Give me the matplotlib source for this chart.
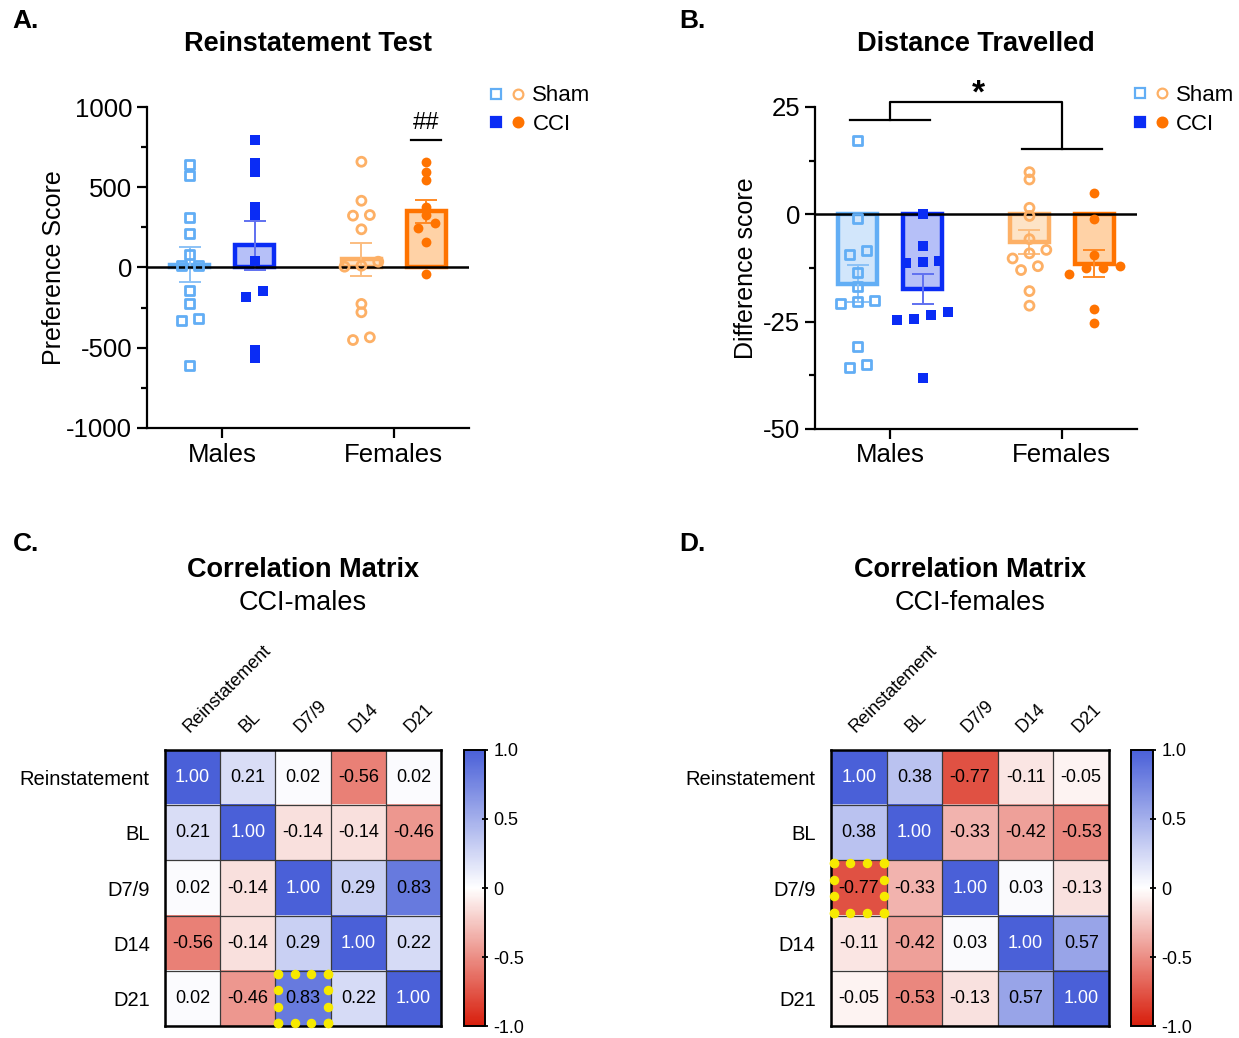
import numpy as np
import matplotlib
matplotlib.use('Agg')
import matplotlib.pyplot as plt
from matplotlib.colors import LinearSegmentedColormap
from matplotlib.legend_handler import HandlerTuple
from matplotlib.lines import Line2D
from matplotlib.ticker import MultipleLocator

plt.rcParams['font.family'] = ['Liberation Sans', 'DejaVu Sans']
plt.rcParams['axes.unicode_minus'] = False

groups = ['Males', 'Females']
conditions = ['Sham', 'CCI']

# A. reinstatement test, preference score per animal
pref_sham_m = [639, 576, 313, 209, 84, 11, 11, -145, -227, -316, -331, -609]
pref_cci_m = [794, 649, 597, 379, 327, 40, -145, -182, -514, -566]
pref_sham_f = [659, 416, 327, 323, 238, 36, 11, 5, -227, -279, -435, -452]
pref_cci_f = [659, 593, 545, 379, 327, 275, 244, 161, -40]

# B. distance travelled, difference score per animal
dist_sham_m = [17.2, -1.0, -8.5, -9.3, -13.5, -16.8, -20.1, -20.3, -20.9, -30.8, -35.0, -35.6]
dist_cci_m = [0.0, -7.4, -10.8, -11.1, -11.4, -22.8, -23.4, -24.4, -24.7, -38.1]
dist_sham_f = [9.8, 8.1, 1.5, -0.4, -5.8, -8.3, -9.1, -10.3, -12.1, -13.0, -17.9, -21.3]
dist_cci_f = [5.0, -1.0, -9.5, -12.0, -12.6, -12.6, -13.9, -22.0, -25.3]

# C/D. correlation matrices
corr_labels = ['Reinstatement', 'BL', 'D7/9', 'D14', 'D21']
corr_males = [[1.00, 0.21, 0.02, -0.56, 0.02],
              [0.21, 1.00, -0.14, -0.14, -0.46],
              [0.02, -0.14, 1.00, 0.29, 0.83],
              [-0.56, -0.14, 0.29, 1.00, 0.22],
              [0.02, -0.46, 0.83, 0.22, 1.00]]
corr_females = [[1.00, 0.38, -0.77, -0.11, -0.05],
                [0.38, 1.00, -0.33, -0.42, -0.53],
                [-0.77, -0.33, 1.00, 0.03, -0.13],
                [-0.11, -0.42, 0.03, 1.00, 0.57],
                [-0.05, -0.53, -0.13, 0.57, 1.00]]
highlight_males = (4, 2)
highlight_females = (2, 0)

# styles: (edge, fill, errorbar colour, marker, filled)
styles = {
    ('Males', 'Sham'): ('#62aef5', '#d2e6fb', '#8cc2f6', 's', False),
    ('Males', 'CCI'): ('#0a2cf5', '#b6c0f8', '#5f70f0', 's', True),
    ('Females', 'Sham'): ('#fdb066', '#fde3c6', '#fbbd80', 'o', False),
    ('Females', 'CCI'): ('#ff7300', '#ffd2a6', '#ff8a26', 'o', True),
}

group_x = {'Males': 0.0, 'Females': 2.65}
cond_dx = {'Sham': -0.5, 'CCI': 0.5}


def swarm_offsets(vals, thresh, step):
    vals = np.asarray(vals, dtype=float)
    order = np.argsort(vals)
    offs = np.zeros(len(vals))
    rows = [[order[0]]]
    for i in order[1:]:
        if vals[i] - vals[rows[-1][-1]] < thresh:
            rows[-1].append(i)
        else:
            rows.append([i])
    for row in rows:
        for k, idx in enumerate(row):
            offs[idx] = (k - (len(row) - 1) / 2.0) * step
    return offs


def dot_bar_panel(ax, data, thresh):
    for (grp, cond), vals in data.items():
        edge, fill, ecol, marker, filled = styles[(grp, cond)]
        vals = np.asarray(vals, dtype=float)
        x = group_x[grp] + cond_dx[cond]
        mean = vals.mean()
        sem = vals.std(ddof=1) / np.sqrt(len(vals))
        ax.bar(x, mean, width=0.6, color=fill, edgecolor=edge, linewidth=3.2, zorder=2)
        ax.errorbar(x, mean, yerr=sem, color=ecol, capsize=8, elinewidth=1.4,
                    capthick=1.4, zorder=3)
        offs = swarm_offsets(vals, thresh, 0.26)
        if filled:
            ax.scatter(x + offs, vals, marker=marker, s=50, color=edge,
                       linewidths=0, zorder=5)
        else:
            ax.scatter(x + offs, vals, marker=marker, s=42, facecolors='none',
                       edgecolors=edge, linewidths=2.0, zorder=5)
    ax.axhline(0, color='black', lw=1.8, zorder=4)
    ax.set_xlim(-1.16, 3.81)
    ax.set_xticks([group_x[g] for g in groups])
    ax.set_xticklabels(groups)
    for s in ['top', 'right']:
        ax.spines[s].set_visible(False)
    for s in ['left', 'bottom']:
        ax.spines[s].set_linewidth(1.6)
    ax.tick_params(axis='both', which='major', labelsize=18.5, width=1.6, length=7)
    ax.tick_params(axis='y', which='minor', width=1.6, length=4)
    ax.tick_params(axis='x', which='minor', length=0)


def add_legend(ax, x0):
    hs = []
    for cond in conditions:
        h = []
        for grp in groups:
            edge, fill, ecol, marker, filled = styles[(grp, cond)]
            h.append(Line2D([], [], ls='', marker=marker, ms=7,
                            mfc=edge if filled else 'none', mec=edge, mew=1.6))
        hs.append(tuple(h))
    ax.legend(hs, conditions, handler_map={tuple: HandlerTuple(ndivide=None, pad=0.4)},
              loc='upper left', bbox_to_anchor=(x0, 1.095), frameon=False,
              fontsize=16, handlelength=1.6, handletextpad=0.35, labelspacing=0.35,
              borderaxespad=0)


fig = plt.figure(figsize=(12.39, 10.38), dpi=100)

# ---- A
axA = fig.add_axes([0.1186, 0.5877, 0.2599, 0.3092])
dot_bar_panel(axA, {('Males', 'Sham'): pref_sham_m, ('Males', 'CCI'): pref_cci_m,
                    ('Females', 'Sham'): pref_sham_f, ('Females', 'CCI'): pref_cci_f}, 44)
axA.set_ylim(-1000, 1000)
axA.yaxis.set_major_locator(MultipleLocator(500))
axA.yaxis.set_minor_locator(MultipleLocator(250))
axA.set_ylabel('Preference Score', fontsize=18, labelpad=0)
axA.set_title('Reinstatement Test', fontsize=19.5, fontweight='bold', pad=40)
xcf = group_x['Females'] + cond_dx['CCI']
axA.plot([xcf - 0.23, xcf + 0.23], [794, 794], color='black', lw=1.6, clip_on=False)
axA.text(xcf, 900, '##', ha='center', va='center', fontsize=17)
add_legend(axA, 1.035)

# ---- B
axB = fig.add_axes([0.6578, 0.5868, 0.2599, 0.3102])
dot_bar_panel(axB, {('Males', 'Sham'): dist_sham_m, ('Males', 'CCI'): dist_cci_m,
                    ('Females', 'Sham'): dist_sham_f, ('Females', 'CCI'): dist_cci_f}, 1.7)
axB.set_ylim(-50, 25)
axB.yaxis.set_major_locator(MultipleLocator(25))
axB.yaxis.set_minor_locator(MultipleLocator(12.5))
axB.set_ylabel('Difference score', fontsize=18, labelpad=4)
axB.set_title('Distance Travelled', fontsize=19.5, fontweight='bold', pad=40)
xm, xf = group_x['Males'], group_x['Females']
axB.plot([xm - 0.62, xm + 0.62], [21.9, 21.9], color='black', lw=1.6, clip_on=False)
axB.plot([xm, xm, xf, xf], [21.9, 26.2, 26.2, 15.1], color='black', lw=1.6, clip_on=False)
axB.plot([xf - 0.62, xf + 0.62], [15.1, 15.1], color='black', lw=1.6, clip_on=False)
axB.text((xm + xf) / 2 + 0.04, 28.0, '*', ha='center', va='center', fontsize=24,
         fontweight='bold')
add_legend(axB, 0.96)

# ---- C / D
cmap = LinearSegmentedColormap.from_list('rwb', ['#d81e0c', '#ffffff', '#4a60d8'])


def corr_panel(ax, cax, mat, hl, subtitle, xc):
    mat = np.asarray(mat)
    n = mat.shape[0]
    im = ax.imshow(mat, cmap=cmap, vmin=-1, vmax=1, aspect='auto')
    for i in range(n):
        for j in range(n):
            v = mat[i, j]
            ax.text(j, i, '%.2f' % v, ha='center', va='center', fontsize=13,
                    color='white' if v > 0.95 else 'black')
    ax.set_xticks(np.arange(-0.5, n, 1), minor=True)
    ax.set_yticks(np.arange(-0.5, n, 1), minor=True)
    ax.grid(which='minor', color='#3a3a3a', lw=0.9)
    ax.tick_params(which='both', length=0)
    ax.xaxis.tick_top()
    ax.set_xticks(range(n))
    ax.set_xticklabels(corr_labels, rotation=45, ha='left', va='bottom',
                       rotation_mode='anchor', fontsize=13)
    ax.tick_params(axis='x', pad=10)
    ax.set_yticks(range(n))
    ax.set_yticklabels(corr_labels, fontsize=14.5)
    ax.tick_params(axis='y', pad=11)
    for s in ax.spines.values():
        s.set_linewidth(1.8)
    # dotted highlight round one cell
    r, c = hl
    t = np.linspace(0, 1, 4)
    px = np.concatenate([c - 0.45 + 0.9 * t, c - 0.45 + 0.9 * t, np.full(4, c - 0.45), np.full(4, c + 0.45)])
    py = np.concatenate([np.full(4, r - 0.45), np.full(4, r + 0.45), r - 0.45 + 0.9 * t, r - 0.45 + 0.9 * t])
    ax.scatter(px, py, s=34, color='#f7ea00', zorder=6, clip_on=False)
    cb = fig.colorbar(im, cax=cax, ticks=[-1, -0.5, 0, 0.5, 1])
    cb.ax.set_yticklabels(['-1.0', '-0.5', '0', '0.5', '1.0'])
    cb.ax.tick_params(labelsize=13, length=5, width=1.3, direction='inout')
    cb.outline.set_linewidth(1.4)
    fig.text(xc, 0.451, 'Correlation Matrix', ha='center', va='center', fontsize=19.5,
             fontweight='bold')
    fig.text(xc, 0.419, subtitle, ha='center', va='center', fontsize=19.5)


axC = fig.add_axes([0.1332, 0.0115, 0.2228, 0.2660])
caxC = fig.add_axes([0.3745, 0.0115, 0.0170, 0.2660])
corr_panel(axC, caxC, corr_males, highlight_males, 'CCI-males', 0.2443)

axD = fig.add_axes([0.6707, 0.0115, 0.2244, 0.2660])
caxD = fig.add_axes([0.9128, 0.0115, 0.0178, 0.2660])
corr_panel(axD, caxD, corr_females, highlight_females, 'CCI-females', 0.7829)

for lab, x, y in [('A.', 0.010, 0.980), ('B.', 0.548, 0.980),
                  ('C.', 0.010, 0.476), ('D.', 0.548, 0.476)]:
    fig.text(x, y, lab, fontsize=19, fontweight='bold', ha='left', va='center')

fig.savefig('out.png', dpi=100)
